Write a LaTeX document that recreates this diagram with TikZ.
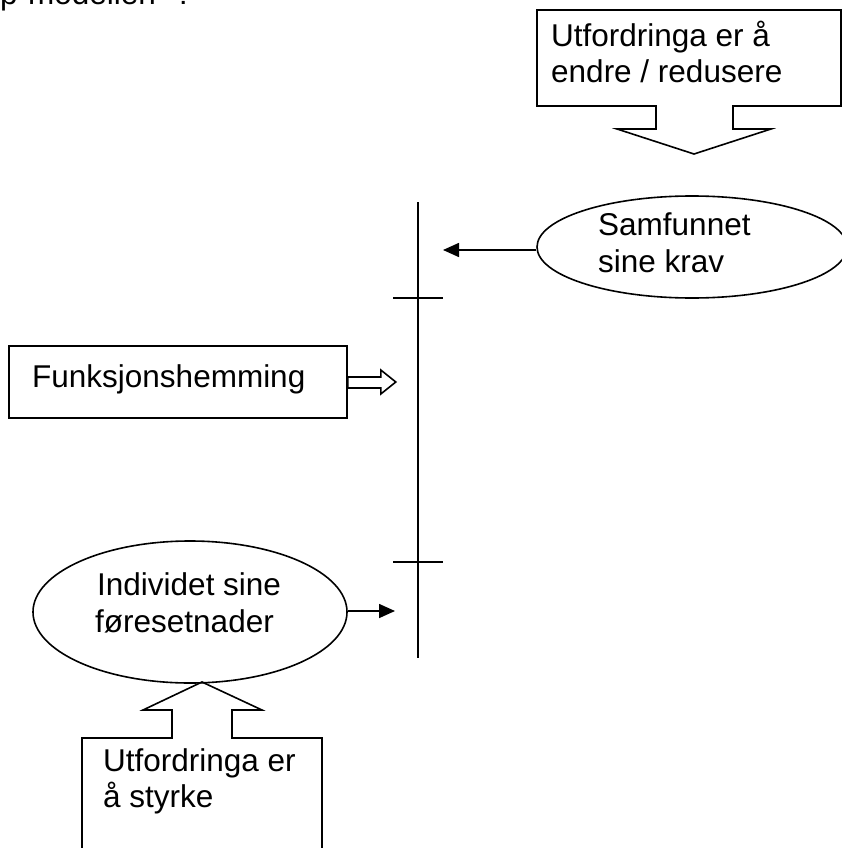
\documentclass[tikz,border=0pt]{standalone}
\usepackage{fontspec}
\setmainfont{Liberation Sans}
\usetikzlibrary{arrows.meta,shapes.geometric}
\newcommand{\diagfont}{\fontsize{31.5pt}{36pt}\selectfont}
\tikzset{
  txt/.style={anchor=base west, inner sep=0pt, font=\diagfont},
  oval/.style={draw, ellipse, line width=1.6pt, inner sep=0pt},
  frame/.style={draw, rectangle, line width=1.6pt, inner sep=0pt},
  outline/.style={draw, line width=1.6pt, line join=miter},
  pointer/.style={line width=1.6pt, -{Triangle[length=16pt,width=14pt]}},
}
\begin{document}
\begin{tikzpicture}[x=1pt,y=-1pt]
  \useasboundingbox (0,0) rectangle (842,848);
  \clip (0,0) rectangle (842,848);
  % heading, cut off at the top
  \node[txt] (head) at (0,5) {p-modellen" ?};
  % upper callout
  \draw[outline] (537,10) -- (841,10) -- (841,106) -- (733,106) -- (733,129)
    -- (771,129) -- (694,154) -- (617,129) -- (656,129) -- (656,106)
    -- (537,106) -- cycle;
  \node[txt] (redA) at (551,47) {Utfordringa er å};
  \node[txt] (redB) at (551,83) {endre / redusere};
  % the scale
  \coordinate (top) at (418,202);
  \coordinate (bot) at (418,658);
  \draw[line width=1.6pt] (top) -- (bot);
  \foreach \ty/\tn in {298/tickA, 562/tickB}
    \draw[line width=1.6pt] (393,\ty) coordinate (\tn) -- (443,\ty);
  % demands of society
  \node[oval, minimum width=310pt, minimum height=102pt] (samf) at (692,247) {};
  \node[txt] (samfA) at (598,235) {Samfunnet};
  \node[txt] (samfB) at (598,272) {sine krav};
  \coordinate (samfend) at (443,250);
  \draw[pointer] (samfend -| samf.west) -- (samfend);
  % disability
  \node[frame, minimum width=338pt, minimum height=72pt] (fbox) at (178,382) {};
  \node[txt] (ftxt) at (32,387) {Funksjonshemming};
  \draw[outline] (fbox.east) ++(0,-5) -- ++(33,0) -- ++(0,-7) -- ++(15,12)
    -- ++(-15,12) -- ++(0,-6) -- ++(-33,0) -- cycle;
  % the individual
  \node[oval, minimum width=314pt, minimum height=142pt] (ind) at (190,612) {};
  \node[txt] (indA) at (97,595) {Individet sine};
  \node[txt] (indB) at (95,632) {føresetnader};
  \coordinate (indend) at (395,611);
  \draw[pointer] (indend -| ind.east) -- (indend);
  % lower callout
  \draw[outline] (82,870) -- (82,738) -- (172,738) -- (172,710) -- (143,710)
    -- (202,682) -- (262,710) -- (232,710) -- (232,738) -- (322,738)
    -- (322,870);
  \node[txt] (styA) at (103,771) {Utfordringa er};
  \node[txt] (styB) at (103,807) {å styrke};
\end{tikzpicture}
\end{document}
